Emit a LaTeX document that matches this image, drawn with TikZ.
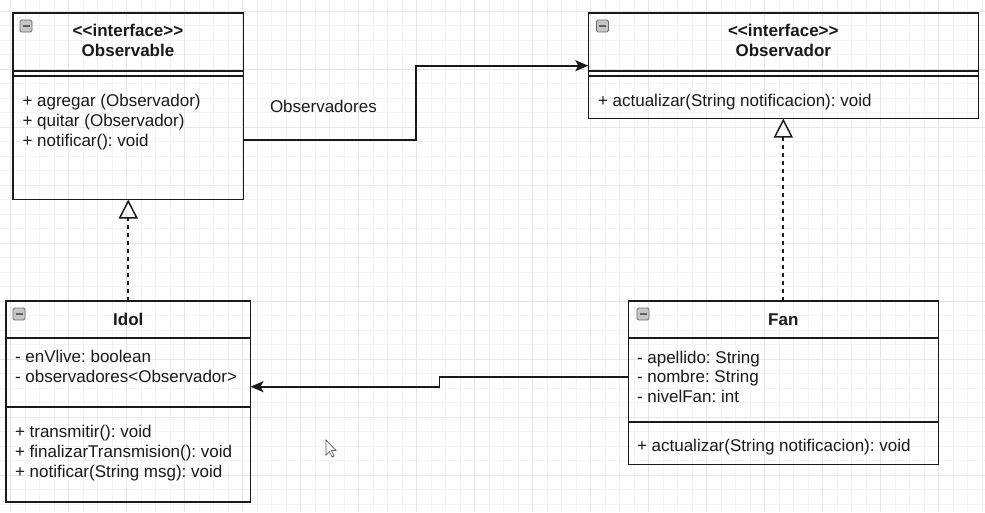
\documentclass[tikz,border=0pt]{standalone}
\usepackage{fontspec}
\setmainfont{Liberation Sans}
\frenchspacing
\usetikzlibrary{arrows.meta}
\definecolor{ink}{HTML}{1A1A1A}
\definecolor{gridminor}{HTML}{F3F3F3}
\definecolor{gridmajor}{HTML}{E6E6E6}
\tikzset{
  umlbox/.style={draw=ink, line width=1.6pt, inner sep=0pt, outer sep=0pt, anchor=north west},
  sepline/.style={draw=ink, line width=1.6pt},
  txt/.style={inner sep=0pt, outer sep=0pt, text=ink, font=\fontsize{17}{20}\selectfont, text height=12pt, text depth=4pt, anchor=west},
  ttl/.style={txt, font=\fontsize{17}{20}\selectfont\bfseries, anchor=center},
  gmin/.style={draw=gridminor, line width=0.8pt},
  gmaj/.style={draw=gridmajor, line width=0.9pt},
  assoc/.style={draw=ink, line width=1.6pt, -{Stealth[length=13pt,width=11pt,inset=3pt]}},
  realize/.style={draw=ink, line width=1.8pt, dash pattern=on 4pt off 4pt, -{Triangle[open,length=19pt,width=19pt,line width=1.5pt]}},
  collapse/.style={draw=gray!85!black, fill=gray!45, line width=0.8pt, rounded corners=1.5pt}
}
\begin{document}
\begin{tikzpicture}[x=1pt,y=-1pt]
\useasboundingbox (0,0) rectangle (985,512);
\fill[white] (0,0) rectangle (985,512);
% grid
\foreach \i in {0,...,67} { \draw[gmin] ({10.7+14.5*\i},0) -- ++(0,512); }
\foreach \j in {0,...,35} { \draw[gmin] (0,{11+14.5*\j}) -- ++(985,0); }
\foreach \i in {0,...,16} { \draw[gmaj] ({10.7+58*\i},0) -- ++(0,512); }
\foreach \j in {0,...,8} { \draw[gmaj] (0,{11+58*\j}) -- ++(985,0); }

% Observable
\node[umlbox, minimum width=230.5pt, minimum height=186.5pt] (obs) at (13,13) {};
\draw[sepline] (obs.west |- 0,70.7) -- (obs.east |- 0,70.7);
\draw[sepline] (obs.west |- 0,75.7) -- (obs.east |- 0,75.7);
\draw[collapse] (20,20) rectangle ++(12,12);
\draw[ink!70, line width=1.2pt] (22.5,26) -- ++(7,0);
\node[ttl] (obst1) at (128,32.5) {<{}<interface>{}>};
\node[ttl] (obst2) at (128,52.5) {Observable};
\node[txt] (obsm1) at (22.5,102) {+ agregar (Observador)};
\node[txt] (obsm2) at (22.5,122) {+ quitar (Observador)};
\node[txt] (obsm3) at (22.5,142) {+ notificar(): void};

% Observador
\node[umlbox, minimum width=390pt, minimum height=105.5pt] (obsr) at (588.3,13) {};
\draw[sepline] (obsr.west |- 0,70.7) -- (obsr.east |- 0,70.7);
\draw[sepline] (obsr.west |- 0,75.7) -- (obsr.east |- 0,75.7);
\draw[collapse] (596.5,20) rectangle ++(12,12);
\draw[ink!70, line width=1.2pt] (599,26) -- ++(7,0);
\node[ttl] (obsrt1) at (783.3,32.5) {<{}<interface>{}>};
\node[ttl] (obsrt2) at (783.3,52.5) {Observador};
\node[txt] (obsrm1) at (598,102) {+ actualizar(String notificacion): void};

% Idol
\node[umlbox, minimum width=244.5pt, minimum height=201pt] (idol) at (6,301) {};
\draw[sepline] (idol.west |- 0,338) -- (idol.east |- 0,338);
\draw[sepline] (idol.west |- 0,407) -- (idol.east |- 0,407);
\draw[collapse] (13,308) rectangle ++(12,12);
\draw[ink!70, line width=1.2pt] (15.5,314) -- ++(7,0);
\node[ttl] (idolt) at (128.3,321) {Idol};
\node[txt] (idola1) at (15,358) {- enVlive: boolean};
\node[txt] (idola2) at (15,378) {- observadores<Observador>};
\node[txt] (idolm1) at (15,433.5) {+ transmitir(): void};
\node[txt] (idolm2) at (15,453.5) {+ finalizarTransmision(): void};
\node[txt] (idolm3) at (15,473.5) {+ notificar(String msg): void};

% Fan
\node[umlbox, minimum width=310pt, minimum height=163.3pt] (fan) at (628.3,301) {};
\draw[sepline] (fan.west |- 0,337.7) -- (fan.east |- 0,337.7);
\draw[sepline] (fan.west |- 0,421.7) -- (fan.east |- 0,421.7);
\draw[collapse] (637,308) rectangle ++(12,12);
\draw[ink!70, line width=1.2pt] (639.5,314) -- ++(7,0);
\node[ttl] (fant) at (783.3,321) {Fan};
\node[txt] (fana1) at (637,359) {- apellido: String};
\node[txt] (fana2) at (637,378.5) {- nombre: String};
\node[txt] (fana3) at (637,398.5) {- nivelFan: int};
\node[txt] (fanm1) at (637,447) {+ actualizar(String notificacion): void};

% connectors
\draw[assoc] (obs.east |- 0,140) -- (416,140) -- (416,65.7) -- (obsr.west |- 0,65.7);
\node[txt] (lbl) at (270,108) {Observadores};
\draw[assoc] (fan.west |- 0,376.7) -- (439.3,376.7) -- (439.3,386.7) -- (idol.east |- 0,386.7);
\draw[realize] (idol.north) -- (obs.south);
\draw[realize] (fan.north) -- (obsr.south);

% mouse cursor
\draw[gray!70!black, fill=white, line width=0.7pt, line join=miter]
  (326,440) -- (326,455) -- (329.5,451.5) -- (332,457) -- (334,456) -- (331.5,450.5) -- (336,450.5) -- cycle;
\end{tikzpicture}
\end{document}
